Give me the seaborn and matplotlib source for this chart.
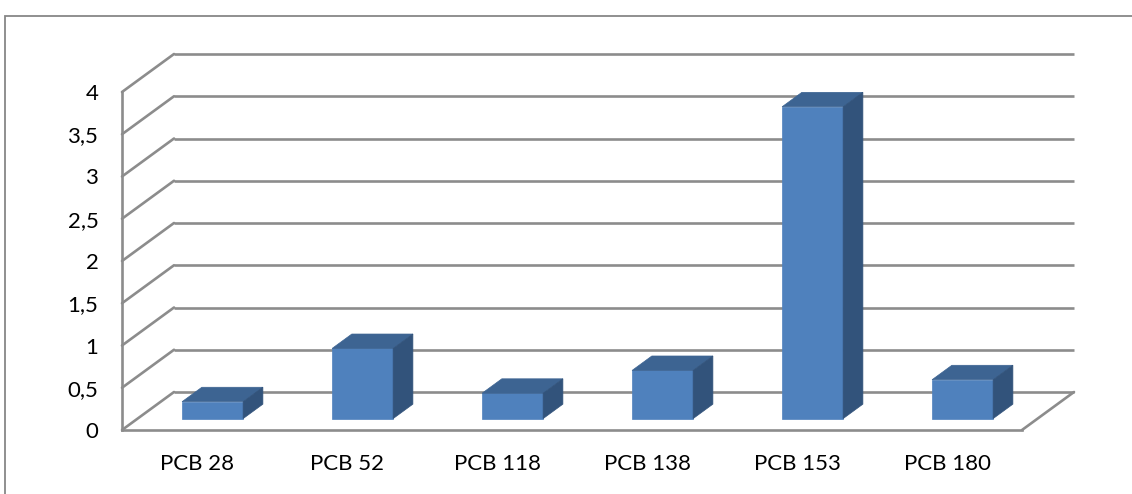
import matplotlib
matplotlib.use("Agg")
import matplotlib.pyplot as plt
import matplotlib.transforms as mtransforms
from matplotlib.patches import Polygon, Rectangle
import seaborn as sns

# PCB congeners and measured concentrations
categories = ["PCB 28", "PCB 52", "PCB 118", "PCB 138", "PCB 153", "PCB 180"]
values = [0.20, 0.83, 0.30, 0.57, 3.69, 0.46]
y_ticks = [0, 0.5, 1, 1.5, 2, 2.5, 3, 3.5, 4]
y_tick_labels = ["0", "0,5", "1", "1,5", "2", "2,5", "3", "3,5", "4"]

FRONT = "#4f81bd"
TOP = "#3d6492"
SIDE = "#32537b"
GRID = "#8c8c8c"

sns.set_style("white")
plt.rcParams["font.family"] = ["Lato", "DejaVu Sans"]

fig = plt.figure(figsize=(11.32, 4.94), dpi=100)
ax = fig.add_axes([122 / 1132, 64 / 494, 900 / 1132, 338 / 494])

# depth of the 3-D box expressed in data units (x: categories, y: value)
depth_x, depth_y = 0.3467, 0.4497
bar_front, bar_back = 0.30, 0.68

sns.barplot(x=categories, y=values, ax=ax, color=FRONT, saturation=1,
            width=0.407, edgecolor=FRONT, linewidth=0.5, zorder=3)

ax.set_xlim(-0.5, len(categories) - 0.5)
ax.set_ylim(0, 4)

# back wall grid lines and left wall diagonals
x_lo, x_hi = ax.get_xlim()
for v in y_ticks:
    ax.plot([x_lo + depth_x, x_hi + depth_x], [v + depth_y, v + depth_y],
            color=GRID, lw=1.9, clip_on=False, zorder=1, solid_capstyle="butt")
    ax.plot([x_lo, x_lo + depth_x], [v, v + depth_y],
            color=GRID, lw=1.9, clip_on=False, zorder=1)
# right edge of the floor
ax.plot([x_hi, x_hi + depth_x], [0, depth_y], color=GRID, lw=1.9,
        clip_on=False, zorder=1)

# turn the flat bars into boxes standing inside the depth
fx, fy = bar_front * depth_x, bar_front * depth_y
bx, by = bar_back * depth_x, bar_back * depth_y
shift = mtransforms.Affine2D().translate(fx, fy) + ax.transData
for p in list(ax.patches):
    x0 = p.get_x()
    x1 = x0 + p.get_width()
    h = p.get_height()
    p.set_transform(shift)
    p.set_clip_on(False)
    top = Polygon([(x0 + fx, h + fy), (x1 + fx, h + fy),
                   (x1 + bx, h + by), (x0 + bx, h + by)],
                  closed=True, facecolor=TOP, edgecolor=TOP, lw=0.5,
                  zorder=3, clip_on=False)
    side = Polygon([(x1 + fx, fy), (x1 + fx, h + fy),
                    (x1 + bx, h + by), (x1 + bx, by)],
                   closed=True, facecolor=SIDE, edgecolor=SIDE, lw=0.5,
                   zorder=3, clip_on=False)
    ax.add_patch(top)
    ax.add_patch(side)

# axes styling
for s in ["top", "right"]:
    ax.spines[s].set_visible(False)
for s in ["left", "bottom"]:
    ax.spines[s].set_color(GRID)
    ax.spines[s].set_linewidth(1.9)
    ax.spines[s].set_zorder(2)

ax.set_yticks(y_ticks, labels=y_tick_labels)
ax.tick_params(axis="y", length=6, width=1.4, color=GRID, pad=11,
               labelsize=16, labelcolor="black")

ax.set_xticks(range(len(categories)), labels=categories)
ax.set_xticks([i - 0.5 for i in range(len(categories) + 1)], minor=True)
ax.tick_params(axis="x", which="major", length=0, pad=17, labelsize=16,
               labelcolor="black")
ax.tick_params(axis="x", which="minor", length=6, width=1.4, color=GRID,
               direction="out")
ax.set_xlabel("")
ax.set_ylabel("")
ax.patch.set_visible(False)

# outer chart frame
fig.patches.append(Rectangle((5 / 1132, -0.5), 2.0, (494 - 16) / 494 + 0.5,
                             transform=fig.transFigure, fill=False,
                             edgecolor="#878787", lw=1.3))

fig.savefig("out.png", dpi=100, facecolor="white")
